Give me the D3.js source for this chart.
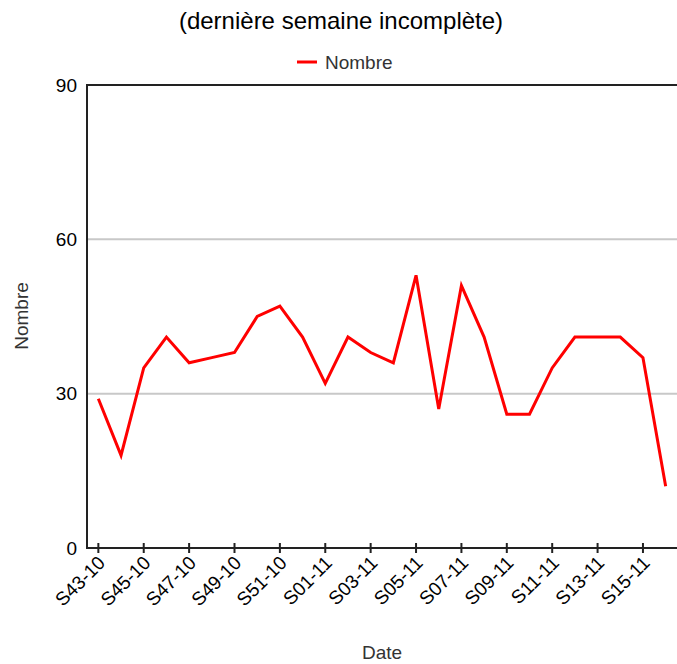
<!DOCTYPE html>
<html>
<head>
<meta charset="utf-8">
<script src="https://cdn.jsdelivr.net/npm/d3@7"></script>
<style>
  html, body { margin: 0; padding: 0; background: #fff; }
  svg { display: block; font-family: "Liberation Sans", Arial, sans-serif; }
</style>
</head>
<body>
<svg id="chart" width="677" height="664"></svg>
<script>
const weeks = ["S43-10","S44-10","S45-10","S46-10","S47-10","S48-10","S49-10","S50-10","S51-10","S52-10",
               "S01-11","S02-11","S03-11","S04-11","S05-11","S06-11","S07-11","S08-11","S09-11","S10-11",
               "S11-11","S12-11","S13-11","S14-11","S15-11","S16-11"];
const nombre = [29,18,35,41,36,37,38,45,47,41,32,41,38,36,53,27,51,41,26,26,35,41,41,41,37,12];
const yTicks = [0,30,60,90];
const titleText = "(dernière semaine incomplète)";
const seriesName = "Nombre";
const xTitle = "Date";
const yTitle = "Nombre";

(function () {
const mLeft = 87, mRight = 677, mTop = 85, mBottom = 548;
const svg = d3.select("#chart");

const x = d3.scaleBand().domain(weeks).range([mLeft, mRight]).padding(0);
const xc = d => x(d) + x.bandwidth() / 2;
const y = d3.scaleLinear().domain([0, 90]).range([mBottom, mTop]);

// gridlines
svg.append("g").selectAll("line").data(yTicks.filter(t => t > 0 && t < 90)).join("line")
  .attr("x1", mLeft).attr("x2", mRight)
  .attr("y1", d => y(d)).attr("y2", d => y(d))
  .attr("stroke", "#c8c8c8").attr("stroke-width", 2);

// y axis labels
const yAxis = svg.append("g").attr("transform", `translate(${mLeft},0)`)
  .call(d3.axisLeft(y).tickValues(yTicks).tickSize(0).tickPadding(10));
yAxis.select(".domain").remove();
yAxis.selectAll("text").attr("font-size", 19).attr("fill", "#000")
  .attr("font-family", "'Liberation Sans', Arial, sans-serif");

// x axis
const evenWeeks = weeks.filter((w, i) => i % 2 === 0);
const xAxis = svg.append("g").attr("transform", `translate(0,${mBottom})`)
  .call(d3.axisBottom(x).tickValues(evenWeeks).tickSizeInner(5).tickSizeOuter(0).tickPadding(4));
xAxis.select(".domain").remove();
xAxis.selectAll(".tick line").attr("y1", -5).attr("y2", 5).attr("stroke", "#222").attr("stroke-width", 2);
xAxis.selectAll("text")
  .attr("font-size", 19).attr("fill", "#000")
  .attr("font-family", "'Liberation Sans', Arial, sans-serif")
  .attr("text-anchor", "end")
  .attr("dy", null).attr("y", null)
  .attr("transform", "translate(8,16) rotate(-45)");

// frame lines: left, top, bottom
svg.append("line").attr("x1", mLeft).attr("x2", mLeft).attr("y1", mTop).attr("y2", mBottom)
  .attr("stroke", "#222").attr("stroke-width", 2);
svg.append("line").attr("x1", mLeft - 1).attr("x2", mRight).attr("y1", mTop).attr("y2", mTop)
  .attr("stroke", "#222").attr("stroke-width", 2);
svg.append("line").attr("x1", mLeft - 1).attr("x2", mRight).attr("y1", mBottom).attr("y2", mBottom)
  .attr("stroke", "#222").attr("stroke-width", 2);

// series line
const line = d3.line().x((d, i) => xc(weeks[i])).y(d => y(d));
svg.append("path").datum(nombre)
  .attr("d", line).attr("fill", "none")
  .attr("stroke", "#ff0000").attr("stroke-width", 3)
  .attr("stroke-linejoin", "miter");

// title
svg.append("text").attr("x", 341).attr("y", 29).attr("text-anchor", "middle")
  .attr("font-size", 24).attr("fill", "#000").text(titleText);

// legend
svg.append("line").attr("x1", 297).attr("x2", 317).attr("y1", 62).attr("y2", 62)
  .attr("stroke", "#ff0000").attr("stroke-width", 3);
svg.append("text").attr("x", 325).attr("y", 69).attr("font-size", 19)
  .attr("fill", "#333").text(seriesName);

// axis titles
svg.append("text").attr("x", (mLeft + mRight) / 2).attr("y", 659).attr("text-anchor", "middle")
  .attr("font-size", 19).attr("fill", "#333").text(xTitle);
svg.append("text").attr("transform", "translate(28,316) rotate(-90)").attr("text-anchor", "middle")
  .attr("font-size", 19).attr("fill", "#333").text(yTitle);
})();
</script>
</body>
</html>
